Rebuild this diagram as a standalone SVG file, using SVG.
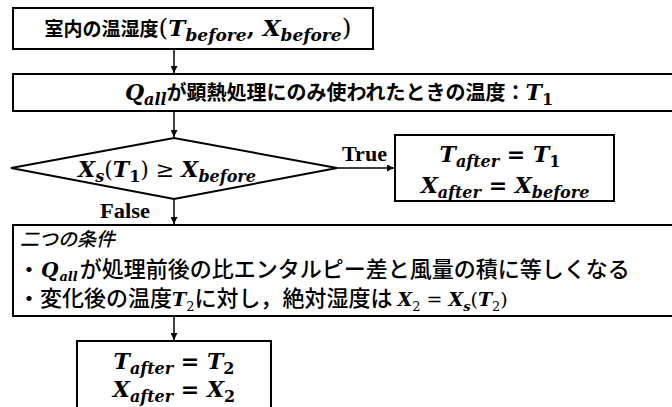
<svg xmlns="http://www.w3.org/2000/svg" width="672" height="407" viewBox="0 0 672 407">
<defs>
<marker id="arr" viewBox="0 0 10 10" refX="10" refY="5" markerWidth="7" markerHeight="7" markerUnits="userSpaceOnUse" orient="auto">
<path d="M0,0 L10,5 L0,10 z" fill="#000"/>
</marker>
<style>
.box{fill:#fff;stroke:#000;stroke-width:2}
.edge{stroke:#000;stroke-width:1.5;fill:none;marker-end:url(#arr)}
.m{font-family:"DejaVu Serif","Liberation Serif",serif;font-style:italic;font-weight:bold}
.u{font-family:"DejaVu Serif","Liberation Serif",serif;font-weight:bold;font-style:normal}
.p{font-family:"DejaVu Serif","Liberation Serif",serif;font-weight:normal;font-style:normal}
.jp{font-family:"Noto Sans CJK JP",sans-serif;font-weight:bold}
.jr{font-family:"Noto Sans CJK JP",sans-serif;font-weight:500}
.lbl{font-family:"Liberation Serif",serif;font-weight:bold;font-size:21px}
text{fill:#000}
</style>
</defs>
<g id="connectors">
<line class="edge" x1="174" y1="49" x2="174" y2="73"/>
<line class="edge" x1="174" y1="111" x2="174" y2="137"/>
<line class="edge" x1="337" y1="168" x2="394" y2="168"/>
<line class="edge" x1="174" y1="199" x2="174" y2="224"/>
<line class="edge" x1="174" y1="316" x2="174" y2="340"/>
<text class="lbl" x="342" y="161" textLength="45" lengthAdjust="spacingAndGlyphs">True</text>
<text class="lbl" x="100" y="218" textLength="50" lengthAdjust="spacingAndGlyphs">False</text>
</g>
<g id="n1">
<rect class="box" x="13" y="8" width="360" height="41"/>
<text x="198" y="36" text-anchor="middle" font-size="19"><tspan class="jp">室内の温湿度</tspan><tspan class="p" font-size="25">(</tspan><tspan class="m" font-size="23">T</tspan><tspan class="m" font-size="17" dy="5">before</tspan><tspan class="u" font-size="23" dy="-5">, </tspan><tspan class="m" font-size="23">X</tspan><tspan class="m" font-size="17" dy="5">before</tspan><tspan class="p" font-size="25" dy="-5">)</tspan></text>
</g>
<g id="n2">
<rect class="box" x="13" y="74" width="670" height="37"/>
<text x="339" y="100" text-anchor="middle" font-size="20"><tspan class="m" font-size="22">Q</tspan><tspan class="m" font-size="16" dy="5">all</tspan><tspan class="jp" dy="-5">が顕熱処理にのみ使われたときの温度：</tspan><tspan class="m" font-size="22">T</tspan><tspan class="u" font-size="16" dy="5">1</tspan></text>
</g>
<g id="n3">
<polygon class="box" points="11,168 174,138 337,168 174,199"/>
<text x="167" y="177" text-anchor="middle" font-size="22"><tspan class="m">X</tspan><tspan class="m" font-size="16" dy="5">s</tspan><tspan class="p" dy="-5">(</tspan><tspan class="m">T</tspan><tspan class="u" font-size="16" dy="5">1</tspan><tspan class="p" dy="-5">) ≥ </tspan><tspan class="m">X</tspan><tspan class="m" font-size="16" dy="5">before</tspan></text>
</g>
<g id="n4">
<rect class="box" x="395" y="135" width="219" height="66"/>
<text x="500" y="162" text-anchor="middle" font-size="22"><tspan class="m">T</tspan><tspan class="m" font-size="16" dy="5">after</tspan><tspan class="u" dy="-5"> = </tspan><tspan class="m">T</tspan><tspan class="u" font-size="16" dy="5">1</tspan></text>
<text x="505" y="193" text-anchor="middle" font-size="22"><tspan class="m">X</tspan><tspan class="m" font-size="16" dy="5">after</tspan><tspan class="u" dy="-5"> = </tspan><tspan class="m">X</tspan><tspan class="m" font-size="16" dy="5">before</tspan></text>
</g>
<g id="n5">
<rect class="box" x="13" y="225" width="670" height="91"/>
<text x="20" y="246" font-size="19" class="jr" font-style="italic">二つの条件</text>
<text x="18" y="277" font-size="22"><tspan class="jr">・</tspan><tspan class="m" font-weight="normal" font-size="20" dx="1">Q</tspan><tspan class="m" font-weight="normal" font-size="13" dy="4" dx="1">all</tspan><tspan class="jr" dy="-4" dx="2">が処理前後の比エンタルピー差と風量の積に等しくなる</tspan></text>
<text x="18" y="306" font-size="22"><tspan class="jr">・変化後の温度</tspan><tspan class="m" font-weight="normal" font-size="19">T</tspan><tspan class="p" font-size="13" dy="5">2</tspan><tspan class="jr" dy="-5">に対し，絶対湿度は </tspan><tspan class="m" font-weight="normal" font-size="19">X</tspan><tspan class="p" font-size="13" dy="5">2</tspan><tspan class="p" font-size="19" dy="-5"> = </tspan><tspan class="m" font-weight="normal" font-size="19">X</tspan><tspan class="m" font-weight="normal" font-size="13" dy="5">s</tspan><tspan class="p" font-size="19" dy="-5">(</tspan><tspan class="m" font-weight="normal" font-size="19">T</tspan><tspan class="p" font-size="13" dy="5">2</tspan><tspan class="p" font-size="19" dy="-5">)</tspan></text>
</g>
<g id="n6">
<rect class="box" x="77" y="341" width="194" height="80"/>
<text x="174" y="369" text-anchor="middle" font-size="22"><tspan class="m">T</tspan><tspan class="m" font-size="16" dy="5">after</tspan><tspan class="u" dy="-5"> = </tspan><tspan class="m">T</tspan><tspan class="u" font-size="16" dy="5">2</tspan></text>
<text x="174" y="397" text-anchor="middle" font-size="22"><tspan class="m">X</tspan><tspan class="m" font-size="16" dy="5">after</tspan><tspan class="u" dy="-5"> = </tspan><tspan class="m">X</tspan><tspan class="u" font-size="16" dy="5">2</tspan></text>
</g>
</svg>
